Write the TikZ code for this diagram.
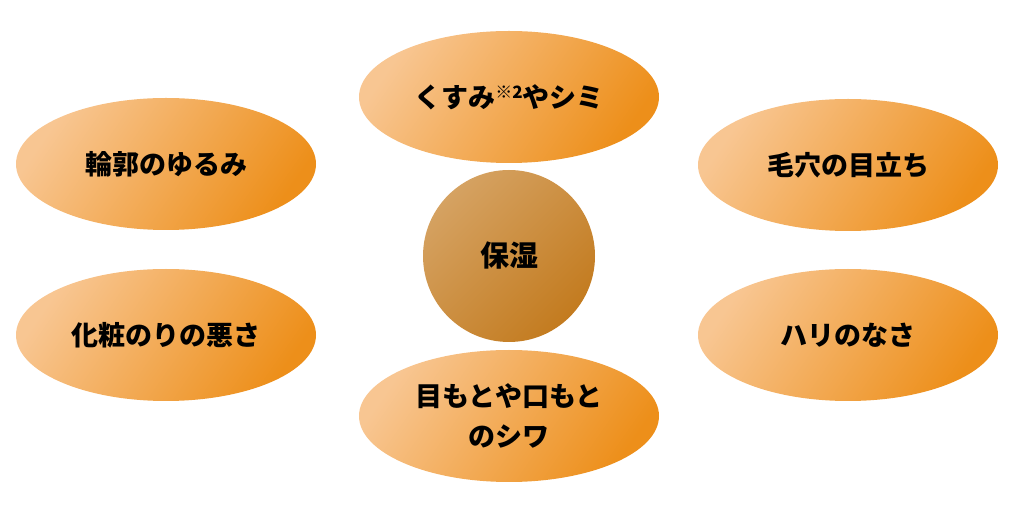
\documentclass[tikz,border=0pt]{standalone}
\usepackage{fontspec}
\setmainfont{Noto Sans CJK JP}
\usepackage{tikz}
\usepackage{xcolor}
\usetikzlibrary{shapes.geometric}

\definecolor{bublight}{RGB}{248,198,146}
\definecolor{bubdark}{RGB}{237,143,26}
\definecolor{corelight}{RGB}{213,162,98}
\definecolor{coredark}{RGB}{195,123,31}

\tikzset{
  bubble/.style={ellipse, minimum width=300pt, minimum height=132pt, inner sep=0pt,
    top color=bublight, bottom color=bubdark, shading angle=55,
    font=\fontsize{27}{40}\selectfont\bfseries, align=center},
  core/.style={circle, minimum size=172pt, inner sep=0pt,
    top color=corelight, bottom color=coredark, shading angle=45,
    font=\fontsize{29}{32}\selectfont\bfseries}
}

\begin{document}
\begin{tikzpicture}[x=1pt,y=1pt]
	\useasboundingbox (0,0) rectangle (1018,517);
	
	% Centre
	\node[core] (hoshitsu) at (509,261) {保湿};
	
	% Top and bottom
	\node[bubble] (kusumi) at (509,420) {くすみ{\fontsize{17}{20}\selectfont\raisebox{9pt}{※2}}やシミ};
	\node[bubble] (shiwa) at (509,101) {目もとや口もと\\のシワ};
	
	% Left
	\node[bubble] (rinkaku) at (166,353) {輪郭のゆるみ};
	\node[bubble] (keshou) at (166,182) {化粧のりの悪さ};
	
	% Right
	\node[bubble] (keana) at (848,352) {毛穴の目立ち};
	\node[bubble] (hari) at (848,182) {ハリのなさ};
\end{tikzpicture}
\end{document}
